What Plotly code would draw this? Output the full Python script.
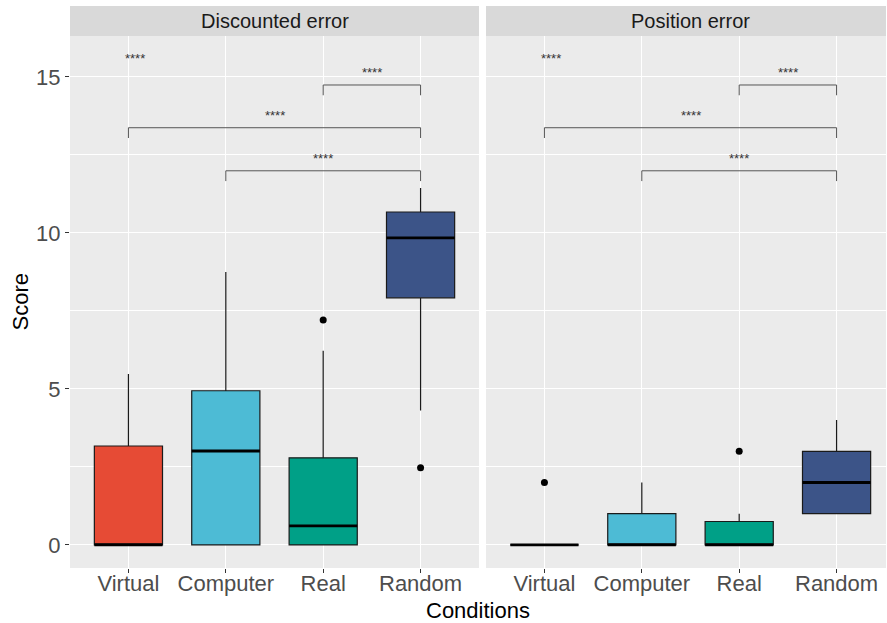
import plotly.graph_objects as go

conditions = ["Virtual", "Computer", "Real", "Random"]
fill_colors = ["#E64B35", "#4DBBD5", "#00A087", "#3C5488"]
facets = ["Discounted error", "Position error"]

# Discounted error box stats
disc_q1 = [0, 0, 0, 7.92]
disc_med = [0, 3.01, 0.61, 9.84]
disc_q3 = [3.17, 4.94, 2.79, 10.67]
disc_lo = [0, 0, 0, 4.31]
disc_hi = [5.48, 8.75, 6.22, 11.44]
disc_out_x = ["Real", "Random"]
disc_out_y = [7.21, 2.47]

# Position error box stats
pos_q1 = [0, 0, 0, 1]
pos_med = [0, 0, 0, 2]
pos_q3 = [0, 1, 0.75, 3]
pos_lo = [0, 0, 0, 1]
pos_hi = [0, 2, 1, 4]
pos_out_x = ["Virtual", "Real"]
pos_out_y = [2, 3]

# significance brackets
bracket_pairs = [("Real", "Random"), ("Virtual", "Random"), ("Computer", "Random")]
bracket_y = [14.74, 13.37, 11.99]
bracket_labels = ["****", "****", "****"]
global_label = "****"
global_label_y = 15.28

FONT = "Liberation Sans, Arial, sans-serif"
BOX_W = 0.7
TIP = 0.33

fig = go.Figure()

pos = {c: i + 1 for i, c in enumerate(conditions)}

facet_data = [
    (disc_q1, disc_med, disc_q3, disc_lo, disc_hi, disc_out_x, disc_out_y, "x", "y"),
    (pos_q1, pos_med, pos_q3, pos_lo, pos_hi, pos_out_x, pos_out_y, "x2", "y2"),
]

for q1, med, q3, lo, hi, ox, oy, xa, ya in facet_data:
    for i, c in enumerate(conditions):
        xi = pos[c]
        fig.add_trace(go.Box(
            x=[xi], q1=[q1[i]], median=[med[i]], q3=[q3[i]],
            lowerfence=[lo[i]], upperfence=[hi[i]],
            fillcolor=fill_colors[i], line=dict(color="#1A1A1A", width=1.2),
            width=BOX_W, whiskerwidth=0, boxpoints=False,
            xaxis=xa, yaxis=ya, showlegend=False, hoverinfo="skip"))
        fig.add_trace(go.Scatter(
            x=[xi - BOX_W / 2, xi + BOX_W / 2], y=[med[i], med[i]],
            mode="lines", line=dict(color="black", width=2.8),
            xaxis=xa, yaxis=ya, showlegend=False, hoverinfo="skip"))
    fig.add_trace(go.Scatter(
        x=[pos[c] for c in ox], y=oy, mode="markers",
        marker=dict(color="black", size=7),
        xaxis=xa, yaxis=ya, showlegend=False, hoverinfo="skip"))
    # brackets
    for (a, b), by, lab in zip(bracket_pairs, bracket_y, bracket_labels):
        xa_, xb_ = pos[a], pos[b]
        fig.add_trace(go.Scatter(
            x=[xa_, xa_, xb_, xb_], y=[by - TIP, by, by, by - TIP],
            mode="lines", line=dict(color="#555555", width=1),
            xaxis=xa, yaxis=ya, showlegend=False, hoverinfo="skip"))
        fig.add_annotation(x=(xa_ + xb_) / 2, y=by + 0.1, text=lab,
                           xref=xa, yref=ya, showarrow=False, yanchor="bottom",
                           font=dict(size=13, color="#333333", family=FONT))
    fig.add_annotation(x=pos[conditions[0]] + 0.07, y=global_label_y, text=global_label,
                       xref=xa, yref=ya, showarrow=False, yanchor="bottom",
                       font=dict(size=13, color="#333333", family=FONT))

W, H = 887, 623
ml, mr, mt, mb = 70, 1, 6, 55
pw = W - ml - mr
ph = H - mt - mb
split_l = (479 - ml) / pw
split_r = (486 - ml) / pw
ytop = (568 - 36) / ph
# right panel is clipped by the image edge
px_per_unit = (479 - 70) / 4.2
x2_max = 0.4 + (886 - 486) / px_per_unit

axis_common = dict(
    tickvals=[1, 2, 3, 4], ticktext=conditions,
    showgrid=True, gridcolor="white", gridwidth=1.1, zeroline=False,
    ticks="outside", ticklen=4, tickcolor="#333333", tickwidth=1,
    tickfont=dict(size=22, color="#4D4D4D", family=FONT), showline=False,
    ticklabelstandoff=-8,
)
yaxis_common = dict(
    range=[-0.74, 16.31], tickvals=[0, 5, 10, 15],
    showgrid=True, gridcolor="white", gridwidth=1.1, zeroline=False,
    minor=dict(tickvals=[2.5, 7.5, 12.5], showgrid=True, gridcolor="white", gridwidth=0.5),
    domain=[0, ytop], showline=False,
)

fig.update_layout(
    width=W, height=H,
    margin=dict(l=ml, r=mr, t=mt, b=mb),
    paper_bgcolor="white", plot_bgcolor="#EBEBEB",
    font=dict(family=FONT),
    xaxis=dict(domain=[0, split_l], anchor="y", range=[0.4, 4.6], **axis_common),
    xaxis2=dict(domain=[split_r, 1], anchor="y2", range=[0.4, x2_max], **axis_common),
    yaxis=dict(anchor="x", ticks="outside", ticklen=4, tickcolor="#333333", tickwidth=1,
               tickfont=dict(size=22, color="#4D4D4D", family=FONT), **yaxis_common),
    yaxis2=dict(anchor="x2", matches="y", showticklabels=False, ticks="", **yaxis_common),
    boxmode="overlay",
)

# facet strips
for xr, name in zip(["x", "x2"], facets):
    fig.add_shape(type="rect", xref=xr, yref="paper", x0=0.4, x1=4.6, y0=ytop, y1=1,
                  fillcolor="#D9D9D9", line=dict(width=0), layer="below")
    fig.add_annotation(xref=xr, yref="paper", x=2.5, y=(ytop + 1) / 2, text=name,
                       showarrow=False, yanchor="middle",
                       font=dict(size=20, color="#1A1A1A", family=FONT))

# axis titles
fig.add_annotation(xref="paper", yref="paper", x=0.5, y=-(610 - 568) / ph, text="Conditions",
                   showarrow=False, yanchor="middle",
                   font=dict(size=22, color="black", family=FONT))
fig.add_annotation(xref="paper", yref="paper", x=-(70 - 34) / pw, y=ytop / 2, text="Score",
                   showarrow=False, textangle=-90, xanchor="right",
                   font=dict(size=22, color="black", family=FONT))

fig.write_html("out.html")
